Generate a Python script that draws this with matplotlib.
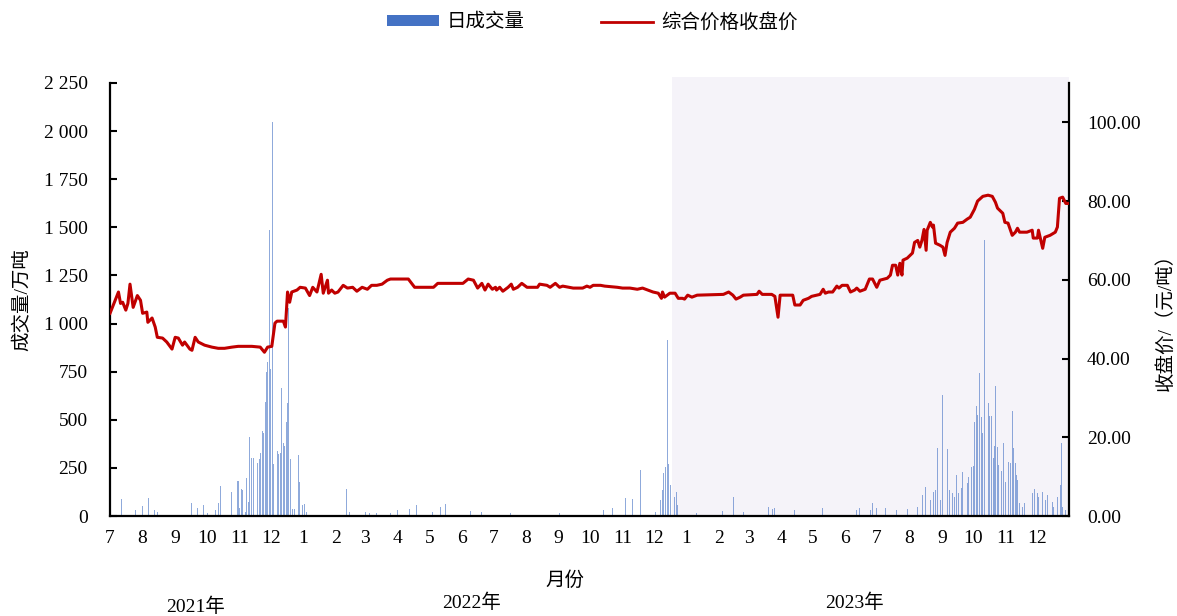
import matplotlib
matplotlib.use("Agg")
import matplotlib.pyplot as plt
from matplotlib.patches import Patch
from matplotlib.lines import Line2D
from matplotlib.ticker import FuncFormatter, MultipleLocator
import pandas as pd

plt.rcParams["font.family"] = ["Liberation Serif", "Noto Sans CJK SC"]

# 综合价格收盘价 (元/吨)
price_dates = [
    "2021-07-01", "2021-07-09", "2021-07-11", "2021-07-13", "2021-07-16", "2021-07-18",
    "2021-07-20", "2021-07-23", "2021-07-27", "2021-07-30", "2021-08-01", "2021-08-05",
    "2021-08-06", "2021-08-10", "2021-08-13", "2021-08-15", "2021-08-20", "2021-08-24",
    "2021-08-29", "2021-09-01", "2021-09-04", "2021-09-08", "2021-09-10", "2021-09-15",
    "2021-09-17", "2021-09-20", "2021-09-23", "2021-09-29", "2021-10-06", "2021-10-12",
    "2021-10-18", "2021-10-25", "2021-10-31", "2021-11-13", "2021-11-21", "2021-11-25",
    "2021-11-28", "2021-12-02", "2021-12-05", "2021-12-07", "2021-12-13", "2021-12-15",
    "2021-12-17", "2021-12-19", "2021-12-21", "2021-12-26", "2021-12-29", "2022-01-03",
    "2022-01-07", "2022-01-10", "2022-01-14", "2022-01-18", "2022-01-20", "2022-01-24",
    "2022-01-25", "2022-01-28", "2022-01-31", "2022-02-03", "2022-02-08", "2022-02-12",
    "2022-02-17", "2022-02-21", "2022-02-26", "2022-03-03", "2022-03-07", "2022-03-12",
    "2022-03-17", "2022-03-22", "2022-03-25", "2022-04-11", "2022-04-17", "2022-05-05",
    "2022-05-09", "2022-06-02", "2022-06-07", "2022-06-12", "2022-06-16", "2022-06-20",
    "2022-06-23", "2022-06-26", "2022-06-30", "2022-07-03", "2022-07-04", "2022-07-07",
    "2022-07-10", "2022-07-15", "2022-07-18", "2022-07-20", "2022-07-24", "2022-07-28",
    "2022-08-02", "2022-08-12", "2022-08-14", "2022-08-21", "2022-08-24", "2022-08-29",
    "2022-09-02", "2022-09-05", "2022-09-15", "2022-09-24", "2022-09-28", "2022-10-01",
    "2022-10-04", "2022-10-11", "2022-10-15", "2022-10-27", "2022-11-01", "2022-11-08",
    "2022-11-15", "2022-11-20", "2022-11-25", "2022-11-30", "2022-12-05", "2022-12-08",
    "2022-12-09", "2022-12-11", "2022-12-16", "2022-12-21", "2022-12-24", "2022-12-28",
    "2022-12-30", "2023-01-02", "2023-01-06", "2023-01-11", "2023-02-05", "2023-02-10",
    "2023-02-14", "2023-02-17", "2023-02-21", "2023-02-24", "2023-03-09", "2023-03-11",
    "2023-03-14", "2023-03-23", "2023-03-26", "2023-03-29", "2023-03-31", "2023-04-12",
    "2023-04-14", "2023-04-19", "2023-04-22", "2023-04-27", "2023-04-30", "2023-05-08",
    "2023-05-11", "2023-05-13", "2023-05-16", "2023-05-20", "2023-05-24", "2023-05-26",
    "2023-05-29", "2023-06-03", "2023-06-06", "2023-06-10", "2023-06-12", "2023-06-15",
    "2023-06-20", "2023-06-24", "2023-06-27", "2023-07-01", "2023-07-04", "2023-07-11",
    "2023-07-14", "2023-07-16", "2023-07-19", "2023-07-21", "2023-07-23", "2023-07-25",
    "2023-07-26", "2023-07-30", "2023-08-04", "2023-08-06", "2023-08-09", "2023-08-11",
    "2023-08-13", "2023-08-15", "2023-08-17", "2023-08-18", "2023-08-21", "2023-08-23",
    "2023-08-24", "2023-08-26", "2023-08-30", "2023-09-02", "2023-09-04", "2023-09-06",
    "2023-09-09", "2023-09-13", "2023-09-16", "2023-09-21", "2023-09-25", "2023-09-28",
    "2023-10-02", "2023-10-05", "2023-10-10", "2023-10-15", "2023-10-19", "2023-10-22",
    "2023-10-24", "2023-10-29", "2023-10-31", "2023-11-03", "2023-11-07", "2023-11-10",
    "2023-11-12", "2023-11-14", "2023-11-21", "2023-11-26", "2023-11-27", "2023-12-01",
    "2023-12-02", "2023-12-06", "2023-12-08", "2023-12-13", "2023-12-18", "2023-12-20",
    "2023-12-22", "2023-12-25", "2023-12-28", "2023-12-30",
]
price_values = [
    51.5, 56.9, 54.0, 54.3, 52.3, 54.0,
    58.9, 53.0, 56.0, 54.8, 51.5, 51.8,
    49.2, 50.3, 48.0, 45.4, 45.2, 44.2,
    42.4, 45.4, 45.2, 43.4, 44.2, 42.4,
    42.1, 45.4, 44.2, 43.4, 42.9, 42.6,
    42.6, 42.9, 43.1, 43.1, 42.9, 41.6,
    42.9, 43.1, 49.0, 49.5, 49.5, 48.0,
    56.9, 54.3, 56.9, 57.4, 58.1, 57.9,
    56.0, 58.1, 56.9, 61.4, 56.6, 59.9,
    56.6, 57.4, 56.6, 56.9, 58.6, 57.9,
    58.1, 57.1, 58.1, 57.6, 58.6, 58.6,
    58.9, 59.9, 60.2, 60.2, 58.1, 58.1,
    59.1, 59.1, 60.2, 59.9, 57.9, 59.1,
    57.4, 58.9, 57.6, 58.1, 57.4, 58.1,
    57.1, 58.1, 58.9, 57.6, 58.1, 59.1,
    58.1, 58.1, 58.9, 58.6, 58.1, 59.1,
    58.1, 58.4, 57.9, 57.9, 58.4, 58.1,
    58.6, 58.6, 58.4, 58.1, 57.9, 57.9,
    57.6, 57.9, 57.4, 56.9, 56.6, 55.3,
    56.9, 55.6, 56.6, 56.6, 55.3, 55.3,
    55.1, 56.1, 55.6, 56.1, 56.3, 56.9,
    56.1, 55.1, 55.6, 56.1, 56.3, 57.1,
    56.3, 56.3, 55.8, 50.5, 56.1, 56.1,
    53.6, 53.6, 54.8, 55.3, 55.8, 56.3,
    57.6, 56.6, 56.9, 56.9, 58.4, 57.9,
    58.6, 58.6, 56.9, 57.4, 57.9, 57.1,
    57.6, 60.2, 60.2, 58.1, 59.9, 60.4,
    61.2, 63.7, 63.7, 61.2, 64.2, 61.2,
    65.0, 65.5, 66.8, 69.5, 70.0, 68.3,
    70.0, 72.8, 67.5, 72.6, 74.6, 73.4,
    73.9, 69.3, 68.8, 68.3, 66.2, 69.5,
    72.1, 73.1, 74.4, 74.6, 75.4, 75.9,
    77.9, 80.0, 81.2, 81.5, 81.2, 79.7,
    78.2, 76.9, 74.6, 74.4, 71.3, 72.1,
    73.1, 72.1, 72.1, 72.6, 70.6, 70.6,
    72.6, 68.0, 70.8, 71.3, 72.1, 73.4,
    80.7, 81.0, 79.4, 79.4,
]

# 日成交量 (万吨)
volume_dates = [
    "2021-07-12", "2021-07-25", "2021-08-01", "2021-08-07", "2021-08-12", "2021-08-15",
    "2021-09-17", "2021-09-18", "2021-09-22", "2021-09-28", "2021-10-02", "2021-10-09",
    "2021-10-12", "2021-10-14", "2021-10-25", "2021-10-27", "2021-10-30", "2021-10-31",
    "2021-11-01", "2021-11-03", "2021-11-04", "2021-11-07", "2021-11-08", "2021-11-10",
    "2021-11-11", "2021-11-13", "2021-11-15", "2021-11-16", "2021-11-18", "2021-11-20",
    "2021-11-21", "2021-11-23", "2021-11-24", "2021-11-26", "2021-11-27", "2021-11-28",
    "2021-11-30", "2021-12-01", "2021-12-03", "2021-12-04", "2021-12-07", "2021-12-08",
    "2021-12-10", "2021-12-11", "2021-12-13", "2021-12-14", "2021-12-16", "2021-12-17",
    "2021-12-18", "2021-12-20", "2021-12-22", "2021-12-24", "2021-12-27", "2021-12-28",
    "2021-12-31", "2022-01-02", "2022-01-04", "2022-02-11", "2022-02-14", "2022-03-01",
    "2022-03-05", "2022-03-12", "2022-03-25", "2022-04-01", "2022-04-12", "2022-04-19",
    "2022-05-04", "2022-05-12", "2022-05-16", "2022-06-09", "2022-06-20", "2022-07-17",
    "2022-09-02", "2022-10-01", "2022-10-14", "2022-10-22", "2022-11-04", "2022-11-10",
    "2022-11-18", "2022-12-02", "2022-12-07", "2022-12-09", "2022-12-10", "2022-12-12",
    "2022-12-14", "2022-12-15", "2022-12-17", "2022-12-19", "2022-12-20", "2022-12-22",
    "2022-12-23", "2023-01-10", "2023-02-04", "2023-02-15", "2023-02-24", "2023-03-20",
    "2023-03-24", "2023-03-26", "2023-04-14", "2023-05-10", "2023-06-12", "2023-06-15",
    "2023-06-25", "2023-06-27", "2023-07-01", "2023-07-09", "2023-07-20", "2023-07-30",
    "2023-08-09", "2023-08-14", "2023-08-16", "2023-08-21", "2023-08-24", "2023-08-26",
    "2023-08-28", "2023-08-31", "2023-09-02", "2023-09-04", "2023-09-06", "2023-09-08",
    "2023-09-11", "2023-09-13", "2023-09-15", "2023-09-17", "2023-09-20", "2023-09-21",
    "2023-09-23", "2023-09-25", "2023-09-26", "2023-09-29", "2023-10-01", "2023-10-02",
    "2023-10-04", "2023-10-05", "2023-10-07", "2023-10-09", "2023-10-10", "2023-10-12",
    "2023-10-13", "2023-10-15", "2023-10-16", "2023-10-18", "2023-10-20", "2023-10-21",
    "2023-10-22", "2023-10-24", "2023-10-25", "2023-10-28", "2023-10-30", "2023-11-01",
    "2023-11-03", "2023-11-05", "2023-11-07", "2023-11-08", "2023-11-10", "2023-11-11",
    "2023-11-12", "2023-11-14", "2023-11-17", "2023-11-19", "2023-11-22", "2023-11-26",
    "2023-11-28", "2023-12-01", "2023-12-02", "2023-12-06", "2023-12-09", "2023-12-11",
    "2023-12-15", "2023-12-16", "2023-12-20", "2023-12-23", "2023-12-24", "2023-12-25",
    "2023-12-28",
]
volume_values = [
    90, 30, 50, 94, 30, 20,
    68, 850, 40, 57, 15, 30,
    68, 156, 125, 146, 182, 182,
    40, 140, 135, 20, 198, 73,
    410, 301, 301, 260, 275, 296,
    327, 442, 431, 593, 748, 800,
    1486, 764, 2048, 270, 338, 322,
    327, 665, 379, 364, 489, 587,
    1081, 296, 36, 36, 317, 177,
    57, 62, 20, 140, 20, 20,
    15, 15, 15, 30, 36, 57,
    20, 47, 62, 25, 20, 15,
    15, 20, 30, 40, 95, 90,
    240, 20, 83, 135, 223, 255,
    915, 270, 161, 203, 99, 125,
    57, 15, 26, 99, 20, 47,
    36, 42, 30, 42, 30, 42,
    30, 68, 42, 42, 30, 36,
    47, 109, 151, 83, 125, 135,
    353, 83, 629, 146, 348, 135,
    120, 99, 213, 120, 146, 229,
    151, 172, 203, 255, 260, 489,
    572, 525, 743, 515, 431, 1435,
    686, 587, 520, 520, 301, 364,
    676, 359, 265, 234, 379, 177,
    281, 275, 546, 353, 275, 213,
    187, 68, 47, 68, 146, 120,
    140, 120, 99, 125, 83, 109,
    73, 47, 99, 161, 379, 47,
    30,
]

# Highlighted period and axis range
shade_start = "2022-12-18"
x_start, x_end = "2021-07-01", "2023-12-31"
years = ["2021年", "2022年", "2023年"]

BLUE = "#4472C4"
RED = "#C00000"

fig = plt.figure(figsize=(11.77, 6.16), dpi=100)
ax = fig.add_axes([0.0935, 0.1623, 0.8147, 0.7030])
ax2 = ax.twinx()

xmin, xmax = pd.Timestamp(x_start), pd.Timestamp(x_end)

# shaded background for the latest period
ax.axvspan(pd.Timestamp(shade_start), xmax, ymin=0, ymax=1.014,
           color="#F5F3F9", lw=0, zorder=0, clip_on=False)

ax.bar(pd.to_datetime(volume_dates), volume_values, width=0.9,
       color=BLUE, alpha=0.6, lw=0, zorder=2)
ax2.plot(pd.to_datetime(price_dates), price_values, color=RED, lw=2.2, zorder=3)

ax.set_xlim(xmin, xmax)
ax.set_ylim(0, 2250)
ax.yaxis.set_major_locator(MultipleLocator(250))
ax.yaxis.set_major_formatter(FuncFormatter(lambda v, _: f"{int(v):,}".replace(",", " ")))
ax2.set_ylim(0, 110)
ax2.set_yticks([0, 20, 40, 60, 80, 100])
ax2.yaxis.set_major_formatter(FuncFormatter(lambda v, _: f"{v:.2f}"))

month_starts = pd.date_range(x_start, "2023-12-01", freq="MS")
ax.set_xticks(month_starts)
ax.set_xticklabels([str(m.month) for m in month_starts])

for a in (ax, ax2):
    a.spines["top"].set_visible(False)
    for s in a.spines.values():
        s.set_linewidth(1.6)
        s.set_color("black")
ax.spines["right"].set_visible(False)
ax2.spines["left"].set_visible(False)
ax2.spines["bottom"].set_visible(False)

ax.tick_params(axis="y", direction="in", length=5, width=1.5, labelsize=14, pad=16)
ax.tick_params(axis="x", length=0, labelsize=14, pad=10)
ax2.tick_params(axis="y", direction="in", length=5, width=1.5, labelsize=14, pad=13)

fig.text(0.0187, 0.513, "成交量/万吨", rotation=90, ha="center", va="center", fontsize=14)
fig.text(0.9898, 0.485, "收盘价/（元/吨）", rotation=90, ha="center", va="center", fontsize=14)
fig.text(0.480, 0.058, "月份", ha="center", va="center", fontsize=14)
for txt, xf, yf in zip(years, [0.1665, 0.401, 0.7256], [0.0146, 0.021, 0.021]):
    fig.text(xf, yf, txt, ha="center", va="center", fontsize=14)

handles = [Patch(facecolor=BLUE, edgecolor="none"),
           Line2D([0], [0], color=RED, lw=2)]
fig.legend(handles, ["日成交量", "综合价格收盘价"], loc="center",
           bbox_to_anchor=(0.503, 0.964), ncol=2, frameon=False, fontsize=14,
           handlelength=2.7, handleheight=0.45, handletextpad=0.4, columnspacing=3.9)

fig.savefig("out.png", dpi=100)
